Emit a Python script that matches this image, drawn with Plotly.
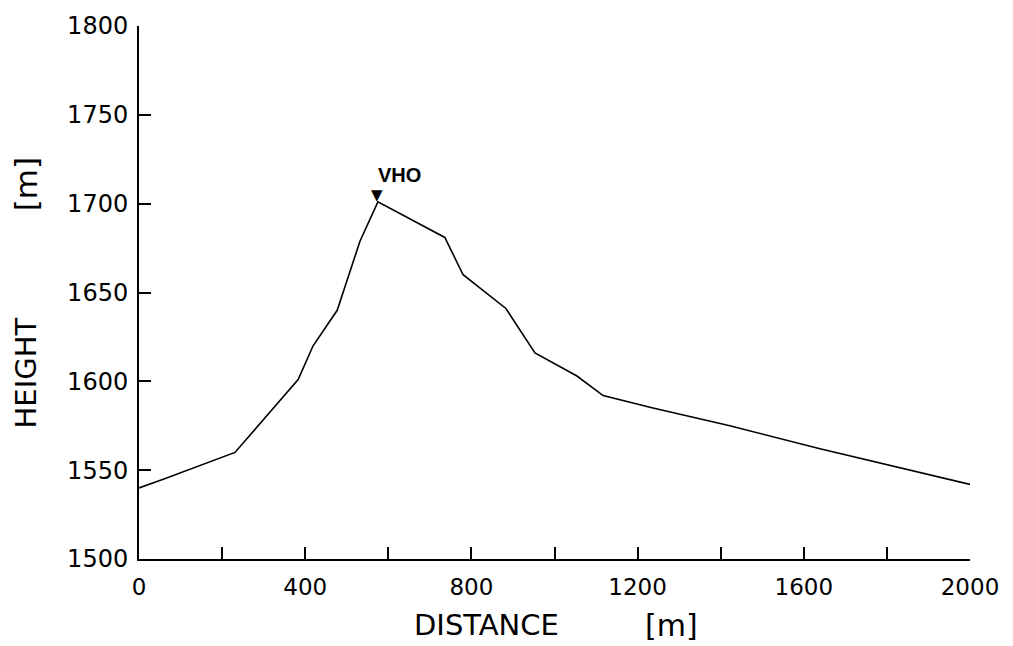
import plotly.graph_objects as go
import numpy as np

distance = [0, 60, 231, 383, 419, 477, 532, 575, 736, 780, 883, 953, 1054, 1117, 1237, 1422, 1639, 2000]
height = [1540, 1545, 1560, 1601, 1620, 1640, 1679, 1701, 1681, 1660, 1641, 1616, 1603, 1592, 1585, 1575, 1562, 1542]

x_tickvals = [0, 200, 400, 600, 800, 1000, 1200, 1400, 1600, 1800, 2000]
x_ticktext = ["0", "", "400", "", "800", "", "1200", "", "1600", "", "2000"]
y_tickvals = [1500, 1550, 1600, 1650, 1700, 1750, 1800]
y_ticktext = ["1500", "1550", "1600", "1650", "1700", "1750", "1800"]

peak_label = "VHO"
x_title = "DISTANCE"
y_title = "HEIGHT"
unit = "[m]"

FONT = "DejaVu Sans"

fig = go.Figure()
fig.add_trace(go.Scatter(x=distance, y=height, mode="lines",
                         line=dict(color="black", width=1.6), hoverinfo="skip",
                         showlegend=False))

i_peak = int(np.argmax(height))
px, py = distance[i_peak], height[i_peak]

fig.add_annotation(x=px, y=py, xref="x", yref="y", text="▼", showarrow=False,
                   yanchor="bottom", xanchor="center", yshift=-4, xshift=-1,
                   font=dict(family=FONT, size=15, color="black"))
fig.add_annotation(x=px, y=py, xref="x", yref="y", text="<b>" + peak_label + "</b>",
                   showarrow=False, yanchor="middle", xanchor="left", xshift=-2, yshift=27,
                   font=dict(family="Liberation Sans", size=20, color="black"))

# axis titles
fig.add_annotation(x=0.4176, y=-0.124, xref="paper", yref="paper", text=x_title,
                   showarrow=False, xanchor="center", yanchor="middle",
                   font=dict(family=FONT, size=29, color="black"))
fig.add_annotation(x=0.641, y=-0.124, xref="paper", yref="paper", text=unit,
                   showarrow=False, xanchor="center", yanchor="middle",
                   font=dict(family=FONT, size=30, color="black"))
fig.add_annotation(x=-0.136, y=0.35, xref="paper", yref="paper", text=y_title,
                   showarrow=False, xanchor="center", yanchor="middle", textangle=-90,
                   font=dict(family=FONT, size=29, color="black"))
fig.add_annotation(x=-0.136, y=0.703, xref="paper", yref="paper", text=unit,
                   showarrow=False, xanchor="center", yanchor="middle", textangle=-90,
                   font=dict(family=FONT, size=31, color="black"))

fig.update_xaxes(range=[0, 2000], tickvals=x_tickvals, ticktext=x_ticktext,
                 ticks="inside", ticklen=12, tickwidth=1.5, tickcolor="black",
                 showline=True, linecolor="black", linewidth=2, showgrid=False,
                 zeroline=False, ticklabelstandoff=6,
                 tickfont=dict(family=FONT, size=23, color="black"))
fig.update_yaxes(range=[1500, 1800], tickvals=y_tickvals, ticktext=y_ticktext,
                 ticks="inside", ticklen=12, tickwidth=1.5, tickcolor="black",
                 showline=True, linecolor="black", linewidth=2, showgrid=False,
                 zeroline=False, ticklabelstandoff=4,
                 tickfont=dict(family=FONT, size=24, color="black"))

fig.update_layout(width=1013, height=646, plot_bgcolor="white", paper_bgcolor="white",
                  margin=dict(l=139, r=43, t=20, b=87), showlegend=False)

fig.write_html("out.html")
